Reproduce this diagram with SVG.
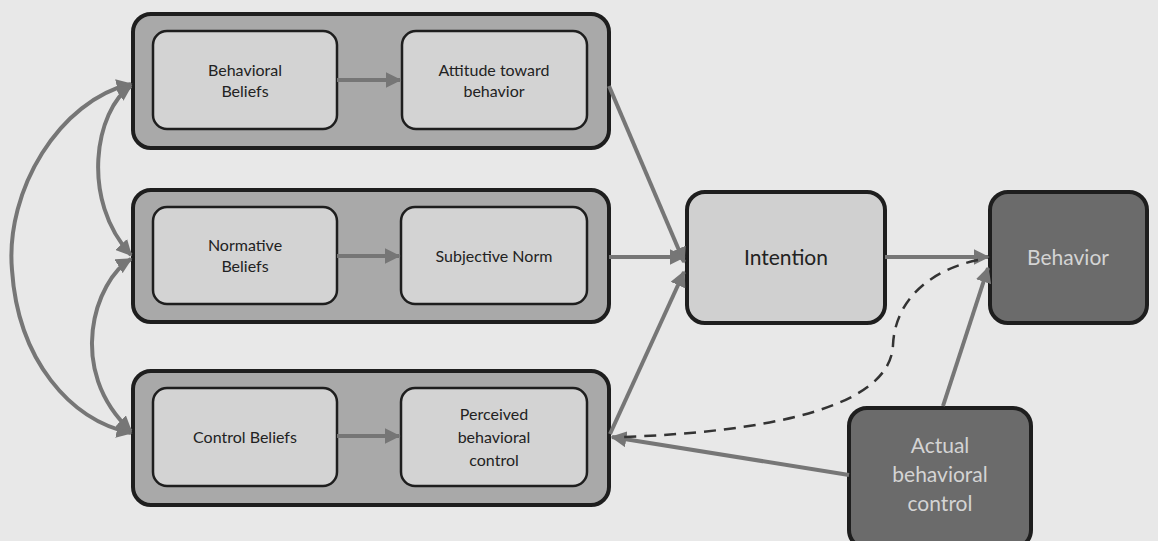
<svg xmlns="http://www.w3.org/2000/svg" width="1158" height="541" viewBox="0 0 1158 541">
<defs>
<marker id="ah" viewBox="0 0 10 10" refX="9" refY="5" markerWidth="4" markerHeight="4" orient="auto-start-reverse" markerUnits="strokeWidth">
<path d="M0,0 L10,5 L0,10 z" fill="#767676"/>
</marker>
<style>
.outer{fill:#a9a9a9;stroke:#1e1e1e;stroke-width:4}
.inner{fill:#d3d3d3;stroke:#1e1e1e;stroke-width:2.5}
.mid{fill:#d0d0d0;stroke:#1e1e1e;stroke-width:4}
.dark{fill:#6b6b6b;stroke:#1e1e1e;stroke-width:4}
.t{font-family:Lato,"Open Sans",sans-serif;font-size:16px;fill:#222;text-anchor:middle}
.tb{font-family:Lato,"Open Sans",sans-serif;font-size:21px;fill:#222;text-anchor:middle}
.tl{font-family:Lato,"Open Sans",sans-serif;font-size:21px;fill:#d4d4d4;text-anchor:middle}
.c{fill:none;stroke:#767676;stroke-width:4}
.d{fill:none;stroke:#333;stroke-width:2.5;stroke-dasharray:12 8}
</style>
</defs>
<rect width="1158" height="541" fill="#e8e8e8"/>
<g id="group-attitude">
<rect class="outer" x="133" y="14" width="476" height="134" rx="18"/>
</g>
<g id="behavioral-beliefs">
<rect class="inner" x="153" y="31" width="184" height="98" rx="14"/>
<text class="t" x="245" y="76">Behavioral</text>
<text class="t" x="245" y="97">Beliefs</text>
</g>
<g id="attitude">
<rect class="inner" x="402" y="31" width="185" height="98" rx="14"/>
<text class="t" x="494" y="76">Attitude toward</text>
<text class="t" x="494" y="97">behavior</text>
</g>
<g id="group-norm">
<rect class="outer" x="133" y="190" width="476" height="132" rx="18"/>
</g>
<g id="normative-beliefs">
<rect class="inner" x="153" y="207" width="184" height="97" rx="14"/>
<text class="t" x="245" y="251">Normative</text>
<text class="t" x="245" y="272">Beliefs</text>
</g>
<g id="subjective-norm">
<rect class="inner" x="401" y="207" width="186" height="97" rx="14"/>
<text class="t" x="494" y="262">Subjective Norm</text>
</g>
<g id="group-control">
<rect class="outer" x="133" y="371" width="476" height="134" rx="18"/>
</g>
<g id="control-beliefs">
<rect class="inner" x="153" y="388" width="184" height="98" rx="14"/>
<text class="t" x="245" y="443">Control Beliefs</text>
</g>
<g id="perceived-control">
<rect class="inner" x="401" y="388" width="186" height="98" rx="14"/>
<text class="t" x="494" y="420">Perceived</text>
<text class="t" x="494" y="443">behavioral</text>
<text class="t" x="494" y="466">control</text>
</g>
<g id="intention">
<rect class="mid" x="687" y="192" width="198" height="131" rx="18"/>
<text class="tb" x="786" y="265">Intention</text>
</g>
<g id="behavior">
<rect class="dark" x="990" y="192" width="157" height="131" rx="18"/>
<text class="tl" x="1068" y="265">Behavior</text>
</g>
<g id="actual-control">
<rect class="dark" x="849" y="408" width="182" height="140" rx="18"/>
<text class="tl" x="940" y="453">Actual</text>
<text class="tl" x="940" y="482">behavioral</text>
<text class="tl" x="940" y="511">control</text>
</g>
<g id="connectors">
<line class="c" x1="337" y1="80" x2="400" y2="80" marker-end="url(#ah)"/>
<line class="c" x1="337" y1="256" x2="399" y2="256" marker-end="url(#ah)"/>
<line class="c" x1="337" y1="436" x2="399" y2="436" marker-end="url(#ah)"/>
<line class="c" x1="609" y1="86" x2="684" y2="262" marker-end="url(#ah)"/>
<line class="c" x1="609" y1="257" x2="684" y2="257" marker-end="url(#ah)"/>
<line class="c" x1="610" y1="434" x2="684" y2="272" marker-end="url(#ah)"/>
<line class="c" x1="885" y1="257" x2="988" y2="257" marker-end="url(#ah)"/>
<line class="c" x1="943" y1="406" x2="988" y2="268" marker-end="url(#ah)"/>
<line class="c" x1="849" y1="475" x2="612" y2="437" marker-end="url(#ah)"/>
<path class="d" d="M978,260 C930,270 895,300 893,345 C890,410 760,432 622,437"/>
<path class="c" d="M131,84 C60,100 5,190 12,270 C18,360 70,420 131,433" marker-start="url(#ah)" marker-end="url(#ah)"/>
<path class="c" d="M131,86 C95,110 80,200 131,255" marker-start="url(#ah)" marker-end="url(#ah)"/>
<path class="c" d="M131,259 C95,280 65,370 131,431" marker-start="url(#ah)" marker-end="url(#ah)"/>
</g>
</svg>
